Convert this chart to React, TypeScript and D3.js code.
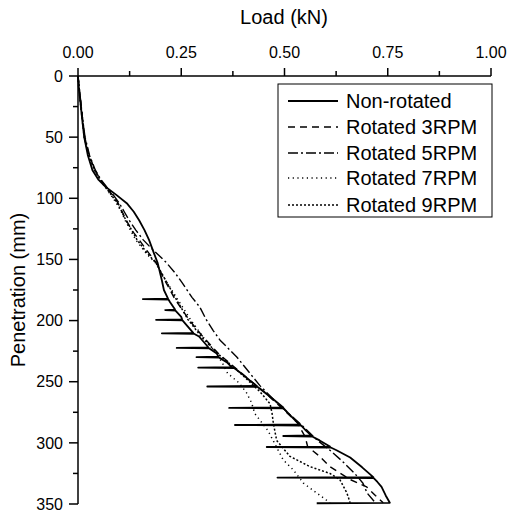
import React from "react";
import * as d3 from "d3";

// [penetration (mm), load (kN)]
const nonRotated: [number, number][] = [
  [0, 0], [10, 0.002], [22, 0.006], [35, 0.01], [50, 0.015], [65, 0.024], [77, 0.035], [85, 0.05],
  [91, 0.068], [97, 0.092], [104, 0.118], [111, 0.135], [118, 0.148], [126, 0.161], [134, 0.172],
  [145, 0.184], [153, 0.193], [167, 0.203], [175, 0.208], [182, 0.218], [182.4, 0.157], [182.8, 0.219],
  [185, 0.223], [191, 0.235], [191.4, 0.211], [191.8, 0.236], [197, 0.25], [199, 0.252], [199.4, 0.189],
  [199.8, 0.253], [205, 0.266], [210, 0.279], [210.4, 0.203], [210.8, 0.281], [213, 0.293], [222, 0.316],
  [222.4, 0.239], [222.8, 0.318], [227, 0.336], [229.5, 0.34], [229.9, 0.287], [230.3, 0.342], [234, 0.36],
  [238, 0.372], [238.4, 0.291], [238.8, 0.378], [243, 0.395], [249, 0.416], [253.5, 0.433], [253.9, 0.313],
  [254.3, 0.435], [258, 0.449], [265, 0.475], [271, 0.497], [271.4, 0.366], [271.8, 0.498], [276, 0.51],
  [283, 0.53], [285, 0.538], [285.4, 0.38], [285.8, 0.54], [290, 0.552], [294, 0.565], [294.4, 0.497],
  [294.8, 0.567], [298, 0.585], [303, 0.61], [303.4, 0.457], [303.8, 0.612], [306, 0.626], [312, 0.659],
  [320, 0.688], [328, 0.715], [328.4, 0.483], [328.8, 0.716], [332, 0.725], [336, 0.735], [343, 0.745],
  [349, 0.755], [349.4, 0.578],
];

const rotated3: [number, number][] = [
  [0, 0], [10, 0.003], [22, 0.007], [35, 0.011], [50, 0.016], [65, 0.027], [77, 0.041], [85, 0.055],
  [91, 0.068], [97, 0.083], [104, 0.097], [111, 0.107], [118, 0.117], [126, 0.13], [134, 0.148],
  [145, 0.172], [153, 0.19], [167, 0.21], [182, 0.234], [199, 0.268], [213, 0.302], [227, 0.34],
  [239, 0.382], [249, 0.417], [258, 0.45], [273, 0.498], [283, 0.53], [295, 0.55], [303, 0.556],
  [311, 0.585], [319.5, 0.61], [330, 0.659], [336, 0.699], [343, 0.72], [349, 0.739],
];

const rotated5: [number, number][] = [
  [0, 0], [10, 0.003], [22, 0.007], [35, 0.011], [50, 0.017], [65, 0.028], [77, 0.042], [85, 0.056],
  [91, 0.07], [97, 0.085], [104, 0.1], [111, 0.112], [118, 0.124], [126, 0.14], [134, 0.158],
  [140, 0.175], [148, 0.2], [153, 0.215], [161, 0.235], [169, 0.252], [181, 0.276], [189, 0.295],
  [199, 0.31], [208, 0.327], [216, 0.344], [230, 0.385], [243, 0.416], [253, 0.44], [265, 0.475],
  [273, 0.5], [285, 0.54], [298, 0.58], [306, 0.61], [315, 0.64], [325, 0.67], [333, 0.69],
  [341, 0.7], [349, 0.72],
];

const rotated7: [number, number][] = [
  [0, 0], [10, 0.002], [22, 0.006], [35, 0.01], [50, 0.015], [65, 0.026], [77, 0.04], [85, 0.053],
  [91, 0.066], [97, 0.079], [104, 0.093], [111, 0.105], [118, 0.114], [126, 0.127], [134, 0.14],
  [145, 0.165], [153, 0.188], [167, 0.212], [182, 0.24], [199, 0.272], [213, 0.302], [227, 0.335],
  [235, 0.35], [243, 0.362], [251, 0.39], [259, 0.408], [267, 0.42], [276, 0.428], [290, 0.46],
  [303, 0.48], [314, 0.497], [322, 0.521], [333, 0.546], [341, 0.578], [349, 0.61],
];

const rotated9: [number, number][] = [
  [0, 0], [10, 0.003], [22, 0.006], [35, 0.011], [50, 0.016], [65, 0.026], [77, 0.04], [85, 0.054],
  [91, 0.067], [97, 0.08], [104, 0.095], [111, 0.106], [118, 0.116], [126, 0.13], [134, 0.143],
  [145, 0.168], [153, 0.189], [167, 0.212], [182, 0.237], [199, 0.266], [213, 0.298], [227, 0.338],
  [239, 0.38], [249, 0.412], [258, 0.44], [268, 0.465], [276, 0.47], [284, 0.473], [298, 0.481],
  [311, 0.513], [319.5, 0.562], [325, 0.61], [330, 0.634], [341, 0.651], [349, 0.659],
];

const seriesNames = ["Non-rotated", "Rotated 3RPM", "Rotated 5RPM", "Rotated 7RPM", "Rotated 9RPM"];
const seriesData = [nonRotated, rotated3, rotated5, rotated7, rotated9];
const xTicks = [0, 0.25, 0.5, 0.75, 1.0];
const xMinor = [0.125, 0.375, 0.625, 0.875];
const yTicks = [0, 50, 100, 150, 200, 250, 300, 350];
const yMinor = [25, 75, 125, 175, 225, 275, 325];

const styles = [
  { dash: "none", w: 1.8 },
  { dash: "7,5", w: 1.4 },
  { dash: "10,3,2,3", w: 1.4 },
  { dash: "1.2,3.5", w: 1.5 },
  { dash: "2,2", w: 1.5 },
];

const FONT = "'Liberation Sans', Arial, Helvetica, sans-serif";

export default function App() {
  const W = 508, H = 513;
  const x = d3.scaleLinear().domain([0, 1]).range([78, 491]);
  const y = d3.scaleLinear().domain([0, 350]).range([76, 504]);
  const line = d3.line<[number, number]>().x((d) => x(d[1])).y((d) => y(d[0]));

  const legX = 278, legY = 84, legW = 214, legH = 133;
  const rowY = [101, 127, 153, 178, 205];

  return (
    <svg width={W} height={H} style={{ position: "absolute", left: 0, top: 0, background: "#fff" }} fontFamily={FONT}>
      <rect x={0} y={0} width={W} height={H} fill="#fff" />
      {/* curves */}
      {seriesData.map((s, i) => (
        <path key={i} d={line(s) || ""} fill="none" stroke="#000" strokeWidth={styles[i].w}
          strokeDasharray={styles[i].dash} strokeLinejoin="round" />
      ))}
      {/* top axis */}
      <line x1={x(0)} x2={x(1)} y1={y(0)} y2={y(0)} stroke="#000" strokeWidth={1.5} />
      {xTicks.map((t) => (
        <g key={t}>
          <line x1={x(t)} x2={x(t)} y1={y(0)} y2={y(0) - 8} stroke="#000" strokeWidth={1.5} />
          <text x={x(t)} y={58} fontSize={16} textAnchor="middle" fill="#000">{t.toFixed(2)}</text>
        </g>
      ))}
      {xMinor.map((t) => (
        <line key={t} x1={x(t)} x2={x(t)} y1={y(0)} y2={y(0) - 5} stroke="#000" strokeWidth={1.5} />
      ))}
      <text x={x(0.5) - 0.5} y={24} fontSize={20} textAnchor="middle" fill="#000">Load (kN)</text>
      {/* left axis */}
      <line x1={x(0)} x2={x(0)} y1={y(0)} y2={y(350)} stroke="#000" strokeWidth={1.5} />
      {yTicks.map((t) => (
        <g key={t}>
          <line x1={x(0) - 9} x2={x(0)} y1={y(t)} y2={y(t)} stroke="#000" strokeWidth={1.5} />
          <text x={63} y={y(t)} dy="0.36em" fontSize={16} textAnchor="end" fill="#000">{t}</text>
        </g>
      ))}
      {yMinor.map((t) => (
        <line key={t} x1={x(0) - 5} x2={x(0)} y1={y(t)} y2={y(t)} stroke="#000" strokeWidth={1.5} />
      ))}
      <text transform={`translate(25,${(y(0) + y(350)) / 2}) rotate(-90)`} fontSize={20} textAnchor="middle" fill="#000">
        Penetration (mm)
      </text>
      {/* legend */}
      <rect x={legX} y={legY} width={legW} height={legH} fill="#fff" stroke="#000" strokeWidth={1} />
      {seriesNames.map((n, i) => (
        <g key={n}>
          <line x1={288} x2={338} y1={rowY[i]} y2={rowY[i]} stroke="#000" strokeWidth={styles[i].w}
            strokeDasharray={styles[i].dash} />
          <text x={346} y={rowY[i]} dy="0.35em" fontSize={20} fill="#000">{n}</text>
        </g>
      ))}
    </svg>
  );
}
